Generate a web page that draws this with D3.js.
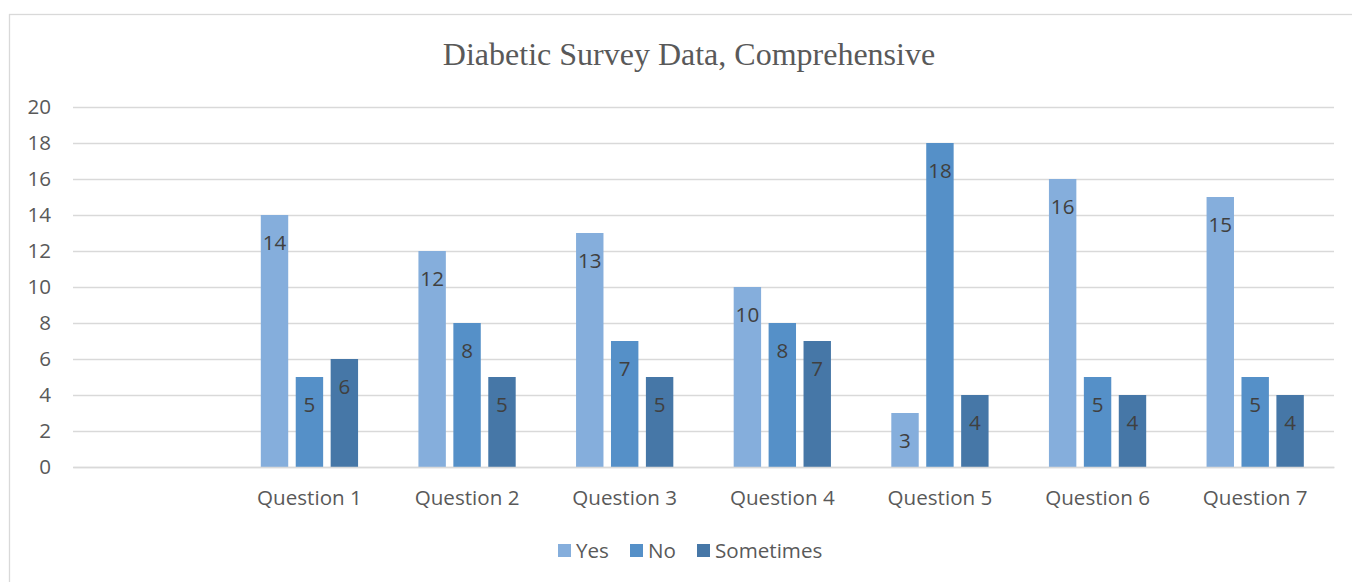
<!DOCTYPE html>
<html><head><meta charset="utf-8">
<script src="https://cdn.jsdelivr.net/npm/d3@7"></script>
<style>html,body{margin:0;padding:0;background:#fff;}svg{display:block;}</style>
</head><body>
<svg id="chart" width="1352" height="582"></svg>
<script>
const title = "Diabetic Survey Data, Comprehensive";
const categories = ["", "Question 1", "Question 2", "Question 3", "Question 4", "Question 5", "Question 6", "Question 7"];
const seriesNames = ["Yes", "No", "Sometimes"];
const yesValues = [null, 14, 12, 13, 10, 3, 16, 15];
const noValues = [null, 5, 8, 7, 8, 18, 5, 5];
const sometimesValues = [null, 6, 5, 5, 7, 4, 4, 4];
const yTicks = [0, 2, 4, 6, 8, 10, 12, 14, 16, 18, 20];
const colors = ["#85aedc", "#5590c8", "#4677a7"];

const seriesValues = [yesValues, noValues, sometimesValues];
const svg = d3.select("#chart");
const font = "'Open Sans', sans-serif";
const fs = 20.6;

// chart frame
svg.append("rect").attr("x", 9.5).attr("y", 14.5).attr("width", 1360).attr("height", 600)
  .attr("fill", "#fff").attr("stroke", "#d9d9d9").attr("stroke-width", 1.3);

const plotLeft = 73, plotRight = 1334, plotTop = 107, plotBottom = 467;
const x0 = d3.scaleBand().domain(categories).range([plotLeft, plotRight]).paddingInner(0.383).paddingOuter(0.1915);
const x1 = d3.scaleBand().domain(seriesNames).range([0, x0.bandwidth()]).paddingInner(0.215).paddingOuter(0);
const y = d3.scaleLinear().domain([0, 20]).range([plotBottom, plotTop]);

// title
svg.append("text").attr("x", 689).attr("y", 65).attr("text-anchor", "middle")
  .attr("font-family", "'Liberation Serif', serif").attr("font-size", 32).attr("fill", "#595959").text(title);

// gridlines
const yAxis = d3.axisLeft(y).tickValues(yTicks).tickSize(-(plotRight - plotLeft)).tickPadding(22);
const gy = svg.append("g").attr("transform", `translate(${plotLeft},0)`).call(yAxis);
gy.select(".domain").remove();
gy.selectAll(".tick line").attr("stroke", "#d9d9d9").attr("stroke-width", 1.3);
gy.selectAll(".tick text").attr("font-family", font).attr("font-size", fs).attr("fill", "#595959");

// bars
const groups = svg.append("g").selectAll("g").data(categories).join("g")
  .attr("transform", d => `translate(${x0(d)},0)`);
seriesNames.forEach((s, si) => {
  groups.each(function(cat, ci) {
    const v = seriesValues[si][ci];
    if (v == null) return;
    const g = d3.select(this);
    g.append("rect").attr("x", x1(s)).attr("y", y(v)).attr("width", x1.bandwidth())
      .attr("height", y(0) - y(v)).attr("fill", colors[si]);
    g.append("text").attr("x", x1(s) + x1.bandwidth() / 2).attr("y", y(v) + 35)
      .attr("text-anchor", "middle").attr("font-family", font).attr("font-size", fs)
      .attr("fill", "#404040").text(v);
  });
});

// x axis
const xAxis = d3.axisBottom(x0).tickSize(0).tickPadding(23);
const gx = svg.append("g").attr("transform", `translate(0,${plotBottom})`).call(xAxis);
gx.select(".domain").attr("stroke", "#d9d9d9").attr("stroke-width", 1.3);
gx.selectAll(".tick text").attr("font-family", font).attr("font-size", fs).attr("fill", "#595959");

// legend
const legendX = [558, 630, 697];
const lg = svg.append("g");
seriesNames.forEach((s, i) => {
  lg.append("rect").attr("x", legendX[i]).attr("y", 544).attr("width", 13).attr("height", 13).attr("fill", colors[i]);
  lg.append("text").attr("x", legendX[i] + 18).attr("y", 558).attr("font-family", font)
    .attr("font-size", fs).attr("fill", "#595959").text(s);
});
</script>
</body></html>
